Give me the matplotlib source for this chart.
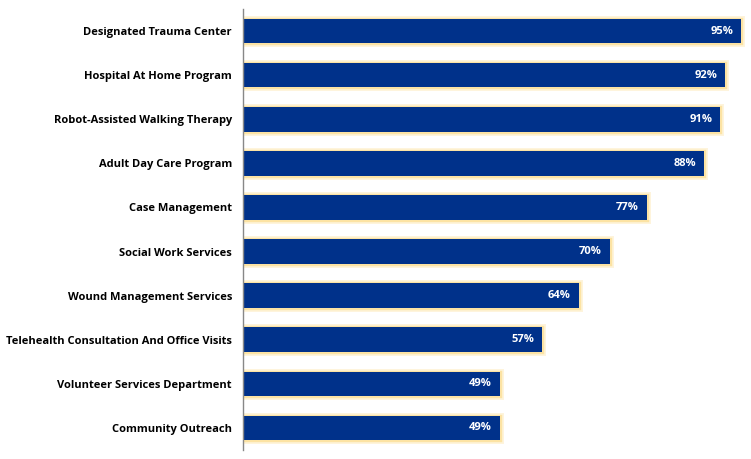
import matplotlib.pyplot as plt
import matplotlib.patheffects as pe

# ========================================
# Data
# ========================================
services = [
    "Designated Trauma Center",
    "Hospital At Home Program",
    "Robot-Assisted Walking Therapy",
    "Adult Day Care Program",
    "Case Management",
    "Social Work Services",
    "Wound Management Services",
    "Telehealth Consultation And Office Visits",
    "Volunteer Services Department",
    "Community Outreach",
]
percent = [95, 92, 91, 88, 77, 70, 64, 57, 49, 49]

bar_color = "#00318A"
glow_color = "#FCE3A4"

# ========================================
# Plot
# ========================================
fig = plt.figure(figsize=(7.51, 4.59), dpi=100)
ax = fig.add_axes([243 / 751, 9 / 459, 508 / 751, 441 / 459])

y = list(range(len(services)))
bars = ax.barh(y, percent, height=0.56, color=bar_color, zorder=3)
for b in bars:
    # soft yellow glow around each bar
    b.set_path_effects([
        pe.withStroke(linewidth=5, foreground="#FEF4DC"),
        pe.withStroke(linewidth=2.5, foreground=glow_color),
        pe.Normal(),
    ])

for yi, v in zip(y, percent):
    ax.text(v - 1.5, yi, f"{v}%", ha="right", va="center", color="white",
            fontsize=8, fontweight="bold", family="Open Sans", zorder=4)

ax.set_xlim(0, 96.9)
ax.set_ylim(len(services) - 0.5, -0.5)
ax.set_yticks(y)
ax.set_yticklabels(services, fontsize=8, fontweight="bold", family="Open Sans")
ax.tick_params(axis="y", length=0, pad=8)
ax.set_xticks([])

for side in ["top", "right", "bottom"]:
    ax.spines[side].set_visible(False)
ax.spines["left"].set_color("#888888")
ax.spines["left"].set_linewidth(1)
ax.spines["left"].set_zorder(5)

plt.savefig("out.png", dpi=100)
